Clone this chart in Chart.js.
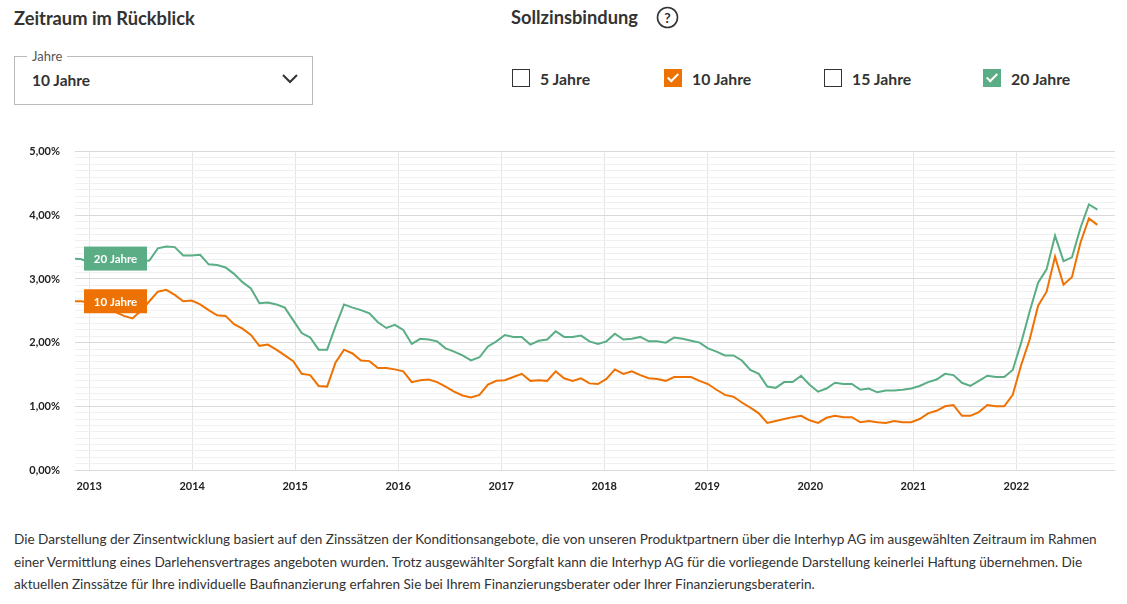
<!DOCTYPE html>
<html lang="de">
<head>
<meta charset="utf-8">
<script src="https://cdn.jsdelivr.net/npm/chart.js@4"></script>
<style>
  body { margin: 0; width: 1127px; height: 604px; background: #fff; font-family: Lato, "Open Sans", sans-serif; color: #222; position: relative; overflow: hidden; }
  .abs { position: absolute; }
  .h { font-size: 18.3px; font-weight: 700; color: #333; }
  .select { left: 14px; top: 56px; width: 299px; height: 49px; border: 1px solid #bbb; box-sizing: border-box; }
  .select .lg { position: absolute; left: 12px; top: -9px; background: #fff; padding: 0 5px; font-size: 13px; color: #555; }
  .select .val { position: absolute; left: 17px; top: 14px; font-size: 15.5px; font-weight: 700; color: #333; }
  .cb { top: 68px; height: 20px; display: flex; align-items: center; font-size: 15.8px; font-weight: 700; color: #333; }
  .box { width: 18px; height: 18px; border: 1.5px solid #333; box-sizing: border-box; margin-right: 10px; position: relative; }
  .box.on { border: none; }
  .box.on::after { content: ""; position: absolute; left: 6px; top: 2px; width: 4px; height: 9px; border: solid #fff; border-width: 0 2px 2px 0; transform: rotate(45deg); }
  .foot { left: 14px; top: 528px; width: 1100px; font-size: 13.6px; line-height: 22.5px; color: #333; }
  #wrap { left: 0; top: 130px; width: 1127px; height: 370px; }
</style>
</head>
<body>
<div class="abs h" style="left:14px;top:7px">Zeitraum im Rückblick</div>
<div class="abs select"><span class="lg">Jahre</span><span class="val">10 Jahre</span>
  <svg class="abs" style="left:266px;top:16px" width="18" height="12"><polyline points="2,2 9,9 16,2" fill="none" stroke="#333" stroke-width="2"/></svg></div>
<div class="abs h" style="left:511px;top:6px">Sollzinsbindung</div>
<svg class="abs" style="left:656px;top:6px" width="23" height="23"><circle cx="11.5" cy="11.5" r="10" fill="none" stroke="#333" stroke-width="1.6"/><text x="11.5" y="16.5" font-size="14" font-weight="700" text-anchor="middle" fill="#333" font-family="Lato">?</text></svg>
<div class="abs cb" style="left:512px"><div class="box"></div>5 Jahre</div>
<div class="abs cb" style="left:664px"><div class="box on" style="background:#ee7203"></div>10 Jahre</div>
<div class="abs cb" style="left:824px"><div class="box"></div>15 Jahre</div>
<div class="abs cb" style="left:983px"><div class="box on" style="background:#5aad84"></div>20 Jahre</div>
<div class="abs" id="wrap"><canvas id="c"></canvas></div>
<div class="abs foot">Die Darstellung der Zinsentwicklung basiert auf den Zinssätzen der Konditionsangebote, die von unseren Produktpartnern über die Interhyp AG im ausgewählten Zeitraum im Rahmen einer Vermittlung eines Darlehensvertrages angeboten wurden. Trotz ausgewählter Sorgfalt kann die Interhyp AG für die vorliegende Darstellung keinerlei Haftung übernehmen. Die aktuellen Zinssätze für Ihre individuelle Baufinanzierung erfahren Sie bei Ihrem Finanzierungsberater oder Ihrer Finanzierungsberaterin.</div>
<script>
"use strict";

// ── Data (monthly, Dec 2012 – Nov 2022) ────────────────────────────────────
const years = [2013, 2014, 2015, 2016, 2017, 2018, 2019, 2020, 2021, 2022];
const yTicks = [0, 1, 2, 3, 4, 5];
const START_MONTH = -1.86;   // months relative to Jan 2013
const STEP = 0.986;

const rate20 = [
  3.32, 3.31, 3.25, 3.25, 3.25, 3.25, 3.26, 3.27, 3.28, 3.29,
  3.48, 3.51, 3.50, 3.37, 3.37, 3.38, 3.23, 3.22, 3.18, 3.08,
  2.95, 2.85, 2.62, 2.63, 2.60, 2.55, 2.35, 2.15, 2.08, 1.89,
  1.89, 2.26, 2.60, 2.55, 2.51, 2.46, 2.32, 2.23, 2.28, 2.20,
  1.98, 2.06, 2.05, 2.02, 1.91, 1.86, 1.80, 1.72, 1.77, 1.94,
  2.02, 2.12, 2.09, 2.09, 1.97, 2.03, 2.05, 2.18, 2.09, 2.09,
  2.11, 2.02, 1.98, 2.02, 2.14, 2.05, 2.06, 2.09, 2.02, 2.02,
  2.00, 2.08, 2.06, 2.03, 2.00, 1.91, 1.86, 1.80, 1.80, 1.72,
  1.57, 1.51, 1.31, 1.29, 1.38, 1.38, 1.48, 1.34, 1.23, 1.28,
  1.37, 1.35, 1.35, 1.26, 1.28, 1.22, 1.25, 1.25, 1.26, 1.28,
  1.32, 1.38, 1.42, 1.51, 1.49, 1.37, 1.32, 1.40, 1.48, 1.46,
  1.46, 1.57, 2.00, 2.49, 2.94, 3.15, 3.68, 3.28, 3.34, 3.80,
  4.17, 4.09
];
const rate10 = [
  2.65, 2.65, 2.62, 2.58, 2.55, 2.48, 2.42, 2.38, 2.50, 2.65,
  2.80, 2.83, 2.75, 2.65, 2.66, 2.60, 2.51, 2.43, 2.42, 2.29,
  2.22, 2.12, 1.95, 1.97, 1.89, 1.80, 1.71, 1.51, 1.49, 1.32,
  1.31, 1.69, 1.89, 1.83, 1.72, 1.71, 1.60, 1.60, 1.58, 1.55,
  1.38, 1.41, 1.42, 1.38, 1.31, 1.23, 1.17, 1.14, 1.18, 1.34,
  1.40, 1.41, 1.46, 1.51, 1.40, 1.41, 1.40, 1.55, 1.44, 1.40,
  1.44, 1.36, 1.35, 1.43, 1.58, 1.51, 1.55, 1.49, 1.44, 1.43,
  1.40, 1.46, 1.46, 1.46, 1.40, 1.35, 1.26, 1.18, 1.15, 1.06,
  0.98, 0.89, 0.74, 0.77, 0.80, 0.83, 0.85, 0.78, 0.74, 0.82,
  0.85, 0.83, 0.83, 0.75, 0.77, 0.75, 0.74, 0.77, 0.75, 0.75,
  0.80, 0.89, 0.93, 1.00, 1.02, 0.85, 0.85, 0.91, 1.02, 1.00,
  1.00, 1.18, 1.65, 2.05, 2.58, 2.80, 3.35, 2.91, 3.03, 3.57,
  3.95, 3.85
];

const GREEN = "#5aad84";
const ORANGE = "#ee7203";

const toPoints = (arr) => arr.map((v, i) => ({ x: START_MONTH + i * STEP, y: v }));

// ── Series label boxes at line start ───────────────────────────────────────
const startLabels = {
  id: "startLabels",
  afterDatasetsDraw(chart) {
    const { ctx, scales: { y }, chartArea } = chart;
    chart.data.datasets.forEach((ds) => {
      const py = y.getPixelForValue(ds.data[0].y);
      const x0 = chartArea.left + 9;
      ctx.save();
      ctx.fillStyle = ds.borderColor;
      ctx.fillRect(x0, py - 12, 63, 24);
      ctx.fillStyle = "#fff";
      ctx.font = "700 11.5px Lato";
      ctx.textAlign = "center";
      ctx.textBaseline = "middle";
      ctx.fillText(ds.label, x0 + 31.5, py + 1);
      ctx.restore();
    });
  },
};

new Chart(document.getElementById("c"), {
  type: "line",
  data: {
    datasets: [
      { label: "20 Jahre", data: toPoints(rate20), borderColor: GREEN, borderWidth: 2, pointRadius: 0, tension: 0 },
      { label: "10 Jahre", data: toPoints(rate10), borderColor: ORANGE, borderWidth: 2, pointRadius: 0, tension: 0 },
    ],
  },
  options: {
    responsive: true,
    maintainAspectRatio: false,
    animation: false,
    layout: { padding: { top: 9, right: 12, bottom: 0, left: 0 } },
    scales: {
      x: {
        type: "linear",
        min: -1.65,
        max: 119.5,
        afterBuildTicks: (s) => { s.ticks = years.map((yr) => ({ value: (yr - 2013) * 12 })); },
        afterFit: (s) => { s.height = 30; },
        grid: { color: "#e6e6e6", drawTicks: false },
        border: { display: false },
        ticks: {
          callback: (v) => String(2013 + Math.round(v / 12)),
          color: "#222", font: { family: "Lato", size: 11, weight: "700" }, padding: 10, maxRotation: 0,
        },
      },
      y: {
        min: 0,
        max: 5,
        afterBuildTicks: (s) => {
          const t = [];
          for (let k = 0; k <= 50; k++) t.push({ value: k / 10 });
          s.ticks = t;
        },
        afterFit: (s) => { s.width = 75; },
        grid: {
          drawTicks: false,
          color: (c) => (yTicks.includes(Math.round(c.tick.value * 10) / 10) ? "#d9d9d9" : "#f0f0f0"),
        },
        border: { display: false },
        ticks: {
          padding: 15,
          autoSkip: false,
          color: "#222",
          font: { family: "Lato", size: 11, weight: "700" },
          callback: (v) => {
            const r = Math.round(v * 10) / 10;
            return yTicks.includes(r) ? r.toFixed(2).replace(".", ",") + "%" : "";
          },
        },
      },
    },
    plugins: { legend: { display: false }, tooltip: { enabled: false } },
  },
  plugins: [startLabels],
});
</script>
</body>
</html>
